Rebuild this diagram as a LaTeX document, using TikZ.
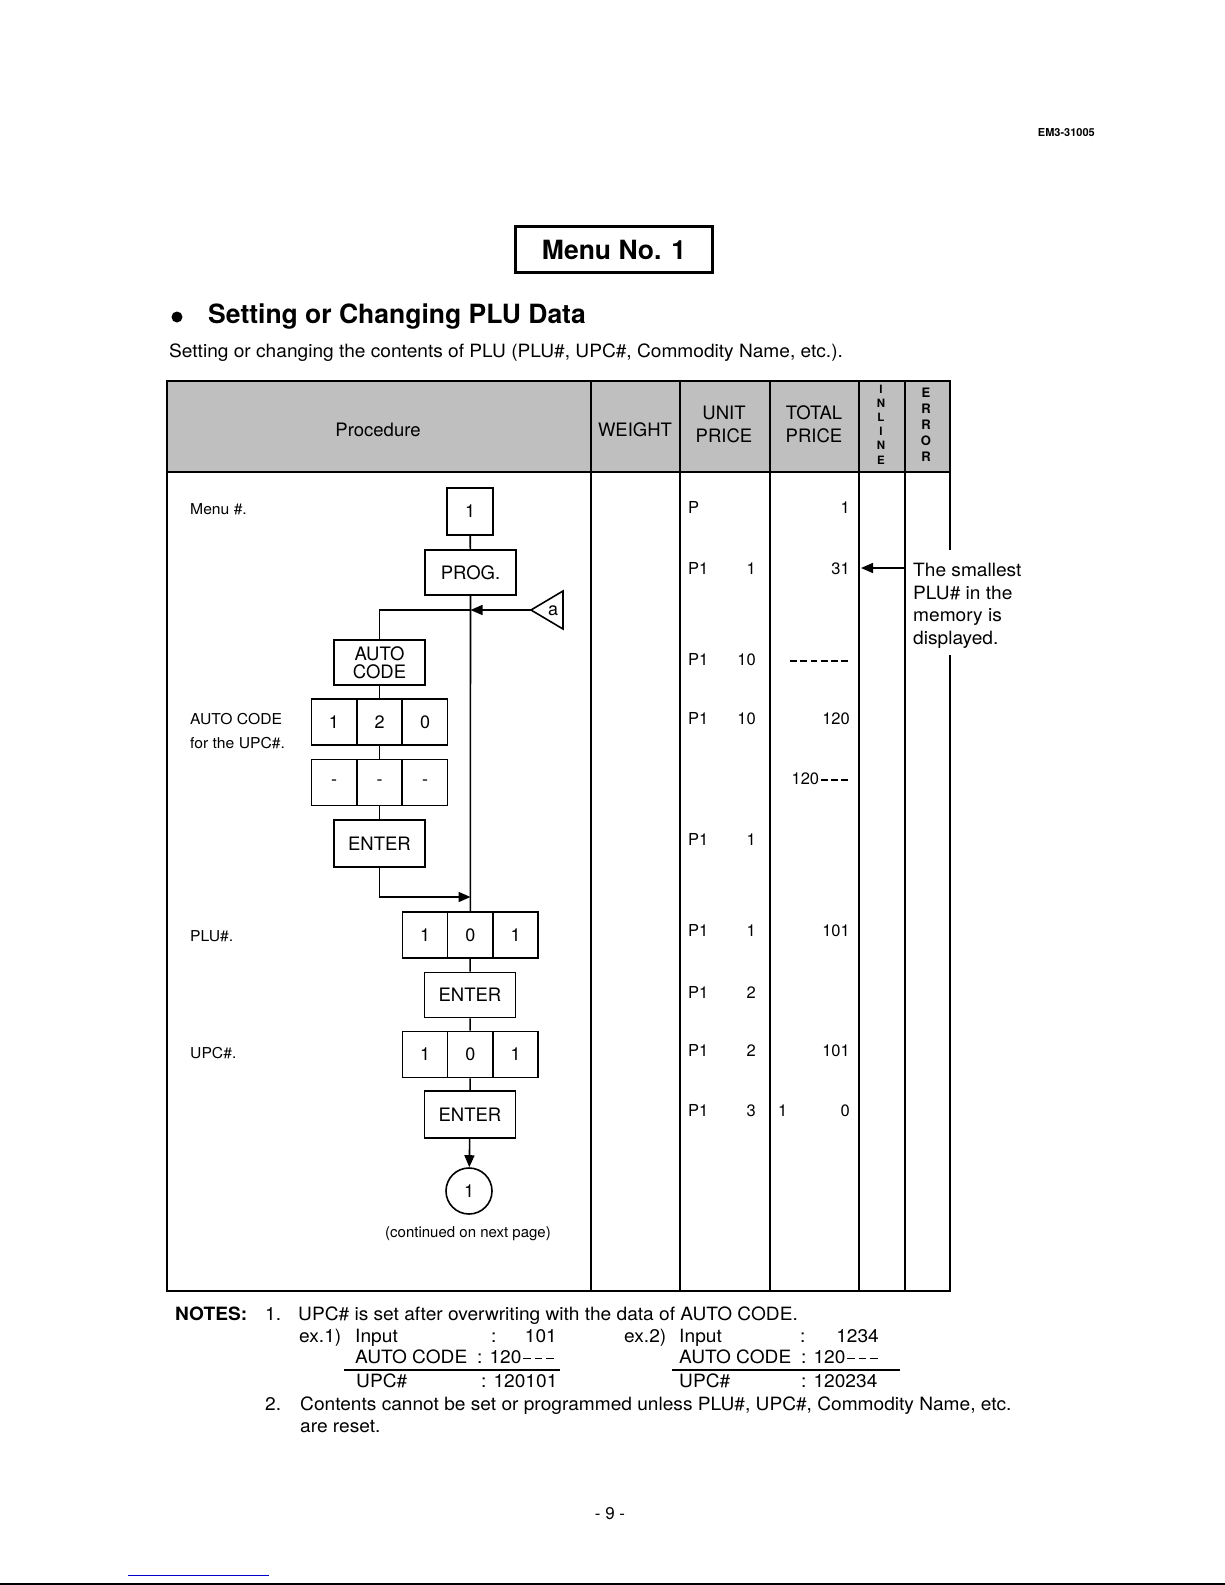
\documentclass[tikz,border=0pt]{standalone}
\usepackage{fontspec}
\setmainfont{TeX Gyre Heros}
\newfontfamily\widefont[FakeStretch=1.045]{TeX Gyre Heros}
\usetikzlibrary{arrows.meta}
\newcommand\fsz[2]{\fontsize{#1}{#2}\selectfont}
\newcommand\dsh{\makebox[0.62em][c]{\rule[0.25em]{0.42em}{0.085em}}}
\begin{document}
\begin{tikzpicture}[x=1pt,y=-1pt,line join=miter,
  tl/.style={line width=1.8pt},
  ln/.style={line width=1.6pt},
  key/.style={draw, line width=1.6pt, minimum width=91pt, minimum height=45pt, inner sep=0pt, font=\fsz{18.5}{18}, align=center},
  cell/.style={draw, line width=1.6pt, minimum width=45.3pt, minimum height=46pt, inner sep=0pt, font=\fsz{18}{20}},
  lab/.style={anchor=mid west, inner sep=0pt, yshift=-4pt, font=\widefont\fsz{15}{17}},
  dl/.style={anchor=mid west, inner sep=0pt, yshift=-4pt, font=\fsz{16.5}{20}},
  dr/.style={anchor=mid east, inner sep=0pt, yshift=-4pt, font=\fsz{16.5}{20}},
  hdr/.style={inner sep=0pt, font=\fsz{18.5}{23}, align=center},
  note/.style={anchor=mid west, inner sep=0pt, yshift=-4pt, font=\widefont\fsz{18.3}{22}},
  noter/.style={anchor=mid east, inner sep=0pt, yshift=-4pt, font=\widefont\fsz{18.3}{22}},
  arr/.style={-{Triangle[length=12pt,width=10pt]}, line width=1.6pt}
]
\useasboundingbox (0,0) rectangle (1225,1585);
\fill[white] (0,0) rectangle (1225,1585);

% heading
\node[anchor=mid east, inner sep=0pt, font=\bfseries\fsz{11}{13}] (doc) at (1095,134) {EM3-31005};
\node[draw, line width=2.4pt, minimum width=197pt, minimum height=46pt, inner sep=0pt, font=\bfseries\fsz{26.5}{30}] (menu) at (614,249.5) {Menu No. 1};
\node[circle, fill, minimum size=11pt, inner sep=0pt] (bul) at (177,317) {};
\node[anchor=mid west, inner sep=0pt, font=\bfseries\fsz{26.5}{30}] (title) at (208,321) {Setting or Changing PLU Data};
\node[note] (sub) at (169,351) {Setting or changing the contents of PLU (PLU\#, UPC\#, Commodity Name, etc.).};

% table
\fill[black!25] (167,381) rectangle (950,472);
\draw[tl] (950,550) -- (950,381) -- (167,381) -- (167,1291) -- (950,1291) -- (950,655);
\draw[tl] (167,472) -- (950,472);
\foreach \x in {591,680,770,859,905} \draw[tl] (\x,381) -- (\x,1291);

\node[hdr] (hproc) at (378,430) {Procedure};
\node[hdr] (hw) at (635,430) {WEIGHT};
\node[hdr] (hu) at (724,424.5) {UNIT\\PRICE};
\node[hdr] (ht) at (814,424.5) {TOTAL\\PRICE};
\node[hdr, font=\bfseries\fsz{11.5}{14.2}] (hi) at (881,424.5) {I\\N\\L\\I\\N\\E};
\node[hdr, font=\bfseries\fsz{13}{16}] (he) at (926,424.5) {E\\R\\R\\O\\R};

% flowchart
\node[cell, minimum width=46pt, minimum height=47pt] (m1) at (470,511.5) {1};
\node[key] (prog) at (470.5,572.5) {PROG.};
\node[key] (auto) at (379.5,662.5) {AUTO\\CODE};
\node[cell] (a1) at (334,722) {1};
\node[cell] (a2) at (379.5,722) {2};
\node[cell] (a3) at (425,722) {0};
\node[cell] (d1) at (334,782.5) {-};
\node[cell] (d2) at (379.5,782.5) {-};
\node[cell] (d3) at (425,782.5) {-};
\node[key, minimum height=47pt] (ent1) at (379.5,843.5) {ENTER};
\node[cell] (p1) at (425,935) {1};
\node[cell] (p2) at (470.3,935) {0};
\node[cell] (p3) at (515.6,935) {1};
\node[key] (ent2) at (470,995) {ENTER};
\node[cell] (u1) at (425,1054.5) {1};
\node[cell] (u2) at (470.3,1054.5) {0};
\node[cell] (u3) at (515.6,1054.5) {1};
\node[key, minimum height=47pt] (ent3) at (470,1114.5) {ENTER};
\node[circle, draw, line width=1.6pt, minimum size=46pt, inner sep=0pt, font=\fsz{18}{20}] (c1) at (469,1191) {1};
\node[inner sep=0pt, font=\fsz{15}{17}] (cont) at (468,1234) {(continued on next page)};

% triangle a
\coordinate (atip) at (531,610);
\draw[ln] (atip) -- (563,591) -- (563,629) -- cycle;
\node[inner sep=0pt, font=\fsz{18}{20}] (alab) at (553,611) {a};
\coordinate (j1) at (470.5,610);
\coordinate (j2) at (470.5,897);

\draw[ln] (m1) -- (prog);
\draw[ln] (prog.south) -- (p2.north);
\draw[arr] (atip) -- (j1);
\draw[ln] (j1) -| (auto.north);
\draw[ln] (auto) -- (a2);
\draw[ln] (a2) -- (d2);
\draw[ln] (d2) -- (ent1);
\draw[arr] (ent1.south) |- (j2);
\draw[ln] (p2) -- (ent2);
\draw[ln] (ent2) -- (u2);
\draw[ln] (u2) -- (ent3);
\draw[arr] (ent3) -- (c1);

% labels
\node[lab] (lmenu) at (190,508) {Menu \#.};
\node[lab] (lauto) at (190,718) {AUTO CODE};
\node[lab] (lupc) at (190,742) {for the UPC\#.};
\node[lab] (lplu) at (190,935) {PLU\#.};
\node[lab] (lupc2) at (190,1052) {UPC\#.};

% data
\node[dl] (r1a) at (688,507) {P};
\node[dr] (r1c) at (850,507) {1};
\node[dl] (r2a) at (688,568) {P1};
\node[dr] (r2b) at (756,568) {1};
\node[dr] (r2c) at (850,568) {31};
\node[dl] (r3a) at (688,659) {P1};
\node[dr] (r3b) at (756,659) {10};
\node[dr] (r3c) at (850,659) {\dsh\dsh\dsh\dsh\dsh\dsh};
\node[dl] (r4a) at (688,718) {P1};
\node[dr] (r4b) at (756,718) {10};
\node[dr] (r4c) at (850,718) {120};
\node[dr] (r5c) at (850,778) {120\dsh\dsh\dsh};
\node[dl] (r6a) at (688,839) {P1};
\node[dr] (r6b) at (756,839) {1};
\node[dl] (r7a) at (688,930) {P1};
\node[dr] (r7b) at (756,930) {1};
\node[dr] (r7c) at (850,930) {101};
\node[dl] (r8a) at (688,992) {P1};
\node[dr] (r8b) at (756,992) {2};
\node[dl] (r9a) at (688,1050) {P1};
\node[dr] (r9b) at (756,1050) {2};
\node[dr] (r9c) at (850,1050) {101};
\node[dl] (r10a) at (688,1110) {P1};
\node[dr] (r10b) at (756,1110) {3};
\node[dl] (r10c) at (778,1110) {1};
\node[dr] (r10d) at (850,1110) {0};

% annotation
\coordinate (ann0) at (905,568);
\coordinate (ann1) at (861,568);
\draw[arr] (ann0) -- (ann1);
\node[anchor=north west, align=left, inner sep=0pt, font=\widefont\fsz{18.3}{22.6}] (ann) at (913,563) {The smallest\\PLU\# in the\\memory is\\displayed.};

% notes
\node[note, font=\widefont\bfseries\fsz{18.3}{22}] (notes) at (175,1314) {NOTES:};
\node[note] (n1) at (265,1314) {1.};
\node[note] (n1t) at (298,1314) {UPC\# is set after overwriting with the data of AUTO CODE.};
\node[note] (e1) at (299,1336) {ex.1)};
\node[note] (e1i) at (355,1336) {Input};
\node[note] (e1c) at (491,1336) {:};
\node[noter] (e1v) at (557,1336) {101};
\node[note] (e1a) at (355,1357) {AUTO CODE};
\node[note] (e1av) at (477,1357) {: 120\dsh\dsh\dsh};
\node[note] (e1u) at (356,1381) {UPC\#};
\node[note] (e1uv) at (481,1381) {: 120101};
\node[note] (e2) at (624,1336) {ex.2)};
\node[note] (e2i) at (679,1336) {Input};
\node[note] (e2c) at (800,1336) {:};
\node[noter] (e2v) at (879,1336) {1234};
\node[note] (e2a) at (679,1357) {AUTO CODE};
\node[note] (e2av) at (801,1357) {: 120\dsh\dsh\dsh};
\node[note] (e2u) at (679,1381) {UPC\#};
\node[note] (e2uv) at (801,1381) {: 120234};
\draw[line width=1.4pt] (344,1370) -- (560,1370);
\draw[line width=1.4pt] (672,1370) -- (900,1370);
\node[note] (n2) at (265,1404) {2.};
\node[note] (n2t) at (300,1404) {Contents cannot be set or programmed unless PLU\#, UPC\#, Commodity Name, etc.};
\node[note] (n2u) at (300,1426) {are reset.};

\node[inner sep=0pt, font=\fsz{17}{20}] (pg) at (610,1514) {- 9 -};

% scan edge
\draw[blue!80!black, line width=1pt] (128,1575) -- (269,1575);
\draw[line width=2pt] (0,1584) -- (1225,1584);
\end{tikzpicture}
\end{document}
